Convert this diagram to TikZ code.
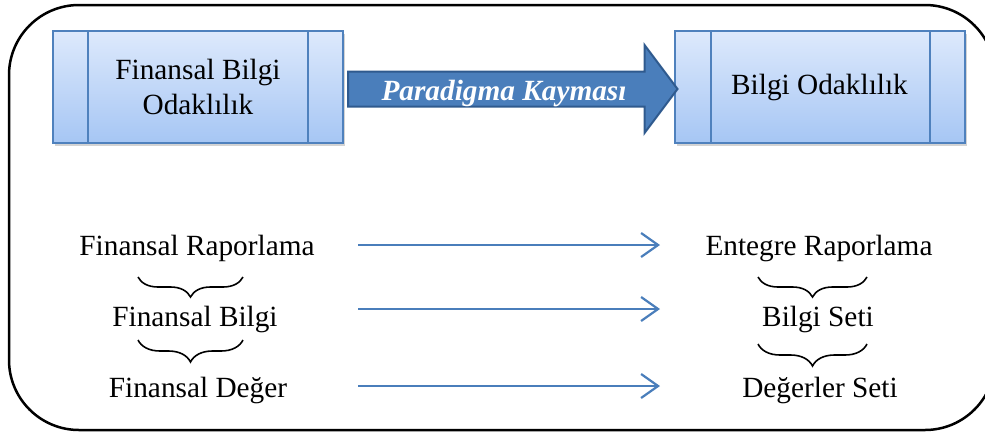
\documentclass[tikz,border=0pt]{standalone}
\usepackage{fontspec}
\setmainfont{Liberation Serif}
\usepackage{tikz}
\usetikzlibrary{positioning}
\usetikzlibrary{calc,shadows,arrows.meta}
\usetikzlibrary{decorations.pathreplacing}

\definecolor{BoxTop}{HTML}{DDE9FC}
\definecolor{BoxBot}{HTML}{A6C6F4}
\definecolor{BoxEdge}{HTML}{4F81BD}
\definecolor{ShiftFill}{HTML}{4A7EBB}
\definecolor{ShiftEdge}{HTML}{2F5A8E}
\definecolor{FlowBlue}{HTML}{4A7EBB}

\newcommand{\termfont}{\fontsize{29.3}{35}\selectfont}

\tikzset{
	focus/.style={draw=BoxEdge, line width=2pt, top color=BoxTop, bottom color=BoxBot,
		minimum width=290pt, minimum height=112pt, align=center,
		drop shadow={shadow xshift=2pt, shadow yshift=-3pt, opacity=0.35}},
	term/.style={anchor=base},
	flow/.style={draw=FlowBlue, line width=2pt,
		-{Straight Barb[length=17pt, width=24pt, line width=2.2pt]}},
	under/.style={decorate, decoration={brace, mirror, amplitude=#1}, line width=1.6pt},
	shifttext/.style={anchor=base, text=white, font=\termfont\bfseries\itshape},
}

\begin{document}
\begin{tikzpicture}[x=1pt, y=-1pt, font=\termfont]
	
	% ------------------------------------------------
	% Ensure the dimensions of graphic are appropriate
	\useasboundingbox (0,0) rectangle (985,432);
	\draw[line width=2.5pt, rounded corners=70pt] (9,5) rectangle (995,430);
	
	% ------------------------------------------------
	% Focus boxes
	\node[focus] (FinBox) at (198,87) {Finansal Bilgi\\Odaklılık};
	\node[focus] (BilBox) at (819.5,87) {Bilgi Odaklılık};
	
	\draw[BoxEdge, line width=2pt] ([xshift=36pt]FinBox.north west) -- ([xshift=36pt]FinBox.south west);
	\draw[BoxEdge, line width=2pt] ([xshift=-36pt]FinBox.north east) -- ([xshift=-36pt]FinBox.south east);
	\draw[BoxEdge, line width=2pt] ([xshift=37pt]BilBox.north west) -- ([xshift=37pt]BilBox.south west);
	\draw[BoxEdge, line width=2pt] ([xshift=-36pt]BilBox.north east) -- ([xshift=-36pt]BilBox.south east);
	
	% ----------------
	% Shift arrow
	\path (FinBox.east) +(4,2) coordinate (ShiftBeg);
	\path (BilBox.west) +(4,2) coordinate (ShiftEnd);
	
	\filldraw[fill=ShiftFill, draw=ShiftEdge, line width=2pt, line join=miter]
		($(ShiftBeg)+(0,-17.5)$) -- ($(ShiftEnd)+(-33,-17.5)$) -- ($(ShiftEnd)+(-33,-44)$)
		-- (ShiftEnd) -- ($(ShiftEnd)+(-33,44)$) -- ($(ShiftEnd)+(-33,17.5)$)
		-- ($(ShiftBeg)+(0,17.5)$) -- cycle;
	\node[shifttext] (ShiftLbl) at (504,100) {Paradigma Kayması};
	
	% ----------------
	% Terms
	\node[term] (FinRap) at (197,255) {Finansal Raporlama};
	\node[term] (FinBil) at (195,326) {Finansal Bilgi};
	\node[term] (FinDeg) at (198,397) {Finansal Değer};
	
	\node[term] (EntRap) at (819,255) {Entegre Raporlama};
	\node[term] (BilSet) at (818,326) {Bilgi Seti};
	\node[term] (DegSet) at (820,397) {Değerler Seti};
	
	% ----------------
	% Braces
	\draw[under=20pt] (138,277) -- (243,277);
	\draw[under=22pt] (138,340) -- (243,340);
	\draw[under=20pt] (758,277) -- (867,277);
	\draw[under=22pt] (758,344) -- (867,344);
	
	% ----------------
	% Flows
	\path (358,245) coordinate (RapBeg) (660,245) coordinate (RapEnd);
	\path (358,309) coordinate (BilBeg) (660,309) coordinate (BilEnd);
	\path (358,386) coordinate (DegBeg) (660,386) coordinate (DegEnd);
	
	\draw[flow] (RapBeg) -- (RapEnd);
	\draw[flow] (BilBeg) -- (BilEnd);
	\draw[flow] (DegBeg) -- (DegEnd);
	
\end{tikzpicture}
\end{document}
